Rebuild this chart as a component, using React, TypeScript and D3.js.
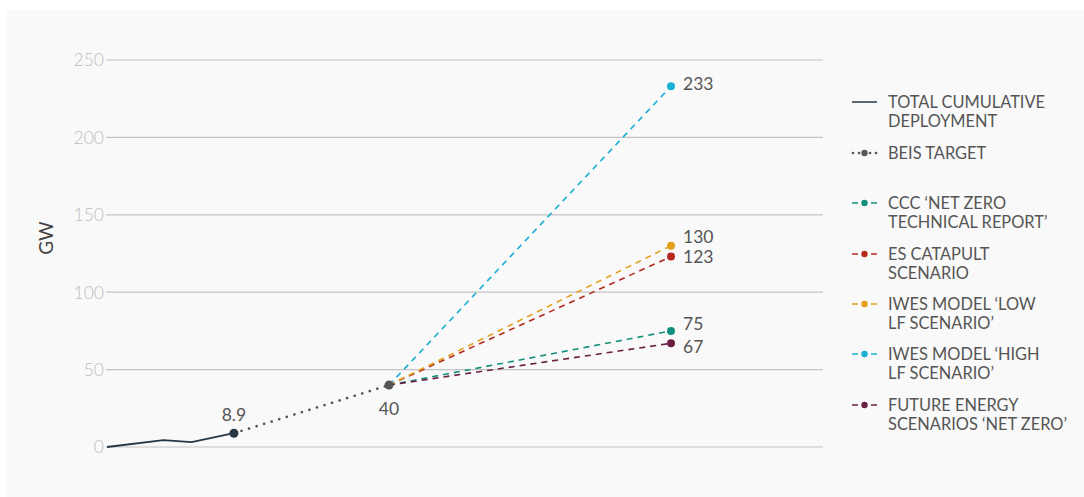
import React from "react";
import * as d3 from "d3";

// Historical total cumulative deployment (GW)
const deployYears = [2010, 2014, 2016, 2019];
const deployValues = [0, 4.5, 3.2, 8.9];

// BEIS target
const targetYear = 2030;
const targetValue = 40;

// 2050 scenarios
const endYear = 2050;
const scenarioNames = [
  "CCC \u2018NET ZERO TECHNICAL REPORT\u2019",
  "ES CATAPULT SCENARIO",
  "IWES MODEL \u2018LOW LF SCENARIO\u2019",
  "IWES MODEL \u2018HIGH LF SCENARIO\u2019",
  "FUTURE ENERGY SCENARIOS \u2018NET ZERO\u2019",
];
const scenarioValues = [75, 123, 130, 233, 67];

const yTicks = [0, 50, 100, 150, 200, 250];

const legendLines: string[][] = [
  ["TOTAL CUMULATIVE", "DEPLOYMENT"],
  ["BEIS TARGET"],
  ["CCC \u2018NET ZERO", "TECHNICAL REPORT\u2019"],
  ["ES CATAPULT", "SCENARIO"],
  ["IWES MODEL \u2018LOW", "LF SCENARIO\u2019"],
  ["IWES MODEL \u2018HIGH", "LF SCENARIO\u2019"],
  ["FUTURE ENERGY", "SCENARIOS \u2018NET ZERO\u2019"],
];

const scenarioColors = ["#12907d", "#b42a1f", "#e3a01a", "#1ab0d3", "#6b1f42"];
const navy = "#253746";
const grey = "#555555";
const labelNudge = [-7, 0, -9, -3, 3];

const W = 1084;
const H = 497;
const font = "Lato, 'Open Sans', sans-serif";

export default function App() {
  const x = d3.scaleLinear().domain([2010, 2050]).range([107, 671]);
  const y = d3.scaleLinear().domain([0, 250]).range([447, 60]);

  const deployLine = d3
    .line<number>()
    .x((_, i) => x(deployYears[i]))
    .y((d) => y(d));

  const lastDeployYear = deployYears[deployYears.length - 1];
  const lastDeployValue = deployValues[deployValues.length - 1];

  const legendX = 852;
  const legendRows = [102, 153, 203, 254, 304, 354, 405];

  return (
    <svg
      width={W}
      height={H}
      style={{ position: "absolute", left: 0, top: 0, fontFamily: font }}
    >
      <title>{scenarioNames.join(", ")}</title>
      <rect x={7} y={10} width={W - 7} height={H - 10} fill="#f9f9f9" />

      {/* grid and y ticks */}
      {yTicks.map((t) => (
        <g key={t}>
          <line x1={106} x2={823} y1={y(t)} y2={y(t)} stroke="#c4c4c4" strokeWidth={1.2} />
          <text
            x={104}
            y={y(t)}
            dy="0.36em"
            textAnchor="end"
            fontSize={17.5}
            fontWeight={300}
            fill="#bdbdbd"
          >
            {t}
          </text>
        </g>
      ))}
      <text
        transform="translate(46,238) rotate(-90)"
        textAnchor="middle"
        dy="0.36em"
        fontSize={19}
        fill="#444"
      >
        GW
      </text>

      {/* deployment history */}
      <path d={deployLine(deployValues) || ""} fill="none" stroke={navy} strokeWidth={1.8} />

      {/* BEIS target dotted line */}
      <line
        x1={x(lastDeployYear)}
        y1={y(lastDeployValue)}
        x2={x(targetYear)}
        y2={y(targetValue)}
        stroke={grey}
        strokeWidth={2.6}
        strokeLinecap="round"
        strokeDasharray="0.1 7.8"
      />

      {/* scenarios */}
      {scenarioValues.map((v, i) => (
        <line
          key={`s${i}`}
          x1={x(targetYear)}
          y1={y(targetValue)}
          x2={x(endYear)}
          y2={y(v)}
          stroke={scenarioColors[i]}
          strokeWidth={1.6}
          strokeDasharray="6 5"
        />
      ))}
      {scenarioValues.map((v, i) => (
        <g key={`p${i}`}>
          <circle cx={x(endYear)} cy={y(v)} r={4} fill={scenarioColors[i]} />
          <text
            x={x(endYear) + 12}
            y={y(v) + labelNudge[i]}
            dy="0.36em"
            fontSize={17.5}
            fill={grey}
          >
            {v}
          </text>
        </g>
      ))}

      {/* key points */}
      <circle cx={x(lastDeployYear)} cy={y(lastDeployValue)} r={4.5} fill={navy} />
      <text
        x={x(lastDeployYear)}
        y={y(lastDeployValue) - 12}
        textAnchor="middle"
        fontSize={17.5}
        fill={grey}
      >
        {lastDeployValue}
      </text>
      <circle cx={x(targetYear)} cy={y(targetValue)} r={4.5} fill={grey} />
      <text
        x={x(targetYear)}
        y={y(targetValue) + 30}
        textAnchor="middle"
        fontSize={17.5}
        fill={grey}
      >
        {targetValue}
      </text>

      {/* legend */}
      {legendLines.map((lines, i) => {
        const cy = legendRows[i];
        let sample: React.ReactNode;
        if (i === 0) {
          sample = (
            <line x1={legendX} x2={legendX + 25} y1={cy} y2={cy} stroke={navy} strokeWidth={1.5} />
          );
        } else if (i === 1) {
          sample = (
            <g fill={grey}>
              <circle cx={legendX + 1} cy={cy} r={1.3} />
              <circle cx={legendX + 7} cy={cy} r={1.3} />
              <circle cx={legendX + 12.5} cy={cy} r={3.2} />
              <circle cx={legendX + 18} cy={cy} r={1.3} />
              <circle cx={legendX + 24} cy={cy} r={1.3} />
            </g>
          );
        } else {
          const c = scenarioColors[i - 2];
          sample = (
            <g>
              <line x1={legendX} x2={legendX + 6} y1={cy} y2={cy} stroke={c} strokeWidth={1.5} />
              <line x1={legendX + 19} x2={legendX + 25} y1={cy} y2={cy} stroke={c} strokeWidth={1.5} />
              <circle cx={legendX + 12.5} cy={cy} r={3.2} fill={c} />
            </g>
          );
        }
        return (
          <g key={`l${i}`}>
            {sample}
            {lines.map((t, j) => (
              <text
                key={j}
                x={888}
                y={cy + j * 19}
                dy="0.36em"
                fontSize={16.4}
                fill={grey}
              >
                {t}
              </text>
            ))}
          </g>
        );
      })}
    </svg>
  );
}
